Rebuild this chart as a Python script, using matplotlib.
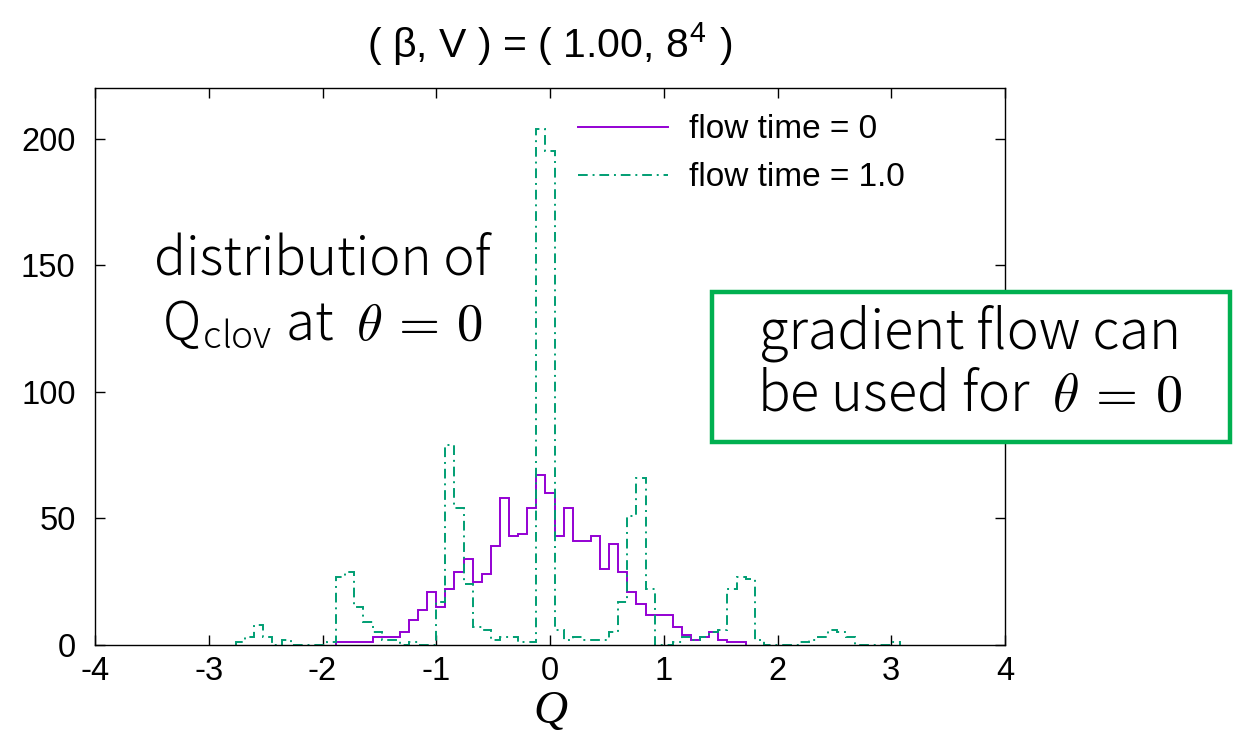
import matplotlib
matplotlib.use("Agg")
import matplotlib.pyplot as plt
from matplotlib.patches import Rectangle
import numpy as np

plt.rcParams['mathtext.fontset'] = 'cm'
plt.rcParams['axes.unicode_minus'] = False
plt.rcParams['font.family'] = ['Liberation Sans', 'DejaVu Sans']

# histogram of Q, bin width 0.08
bin_width = 0.08
q_flow0 = [-1.84, -1.76, -1.68, -1.60, -1.52, -1.44, -1.36, -1.28, -1.20, -1.12,
           -1.04, -0.96, -0.88, -0.80, -0.72, -0.64, -0.56, -0.48, -0.40, -0.32,
           -0.24, -0.16, -0.08, 0.00, 0.08, 0.16, 0.24, 0.32, 0.40, 0.48,
           0.56, 0.64, 0.72, 0.80, 0.88, 0.96, 1.04, 1.12, 1.20, 1.28,
           1.36, 1.44, 1.52, 1.60, 1.68]
n_flow0 = [1, 1, 1, 1, 3, 3, 3, 5, 10, 14,
           21, 15, 22, 29, 34, 25, 28, 39, 58, 43,
           44, 54, 67, 60, 43, 54, 41, 41, 43, 30,
           40, 29, 21, 16, 12, 12, 12, 7, 4, 2,
           3, 5, 2, 1, 1]

q_flow1 = [-2.72, -2.64, -2.56, -2.48, -2.40, -2.32, -2.24, -2.16, -2.08, -2.00,
           -1.92, -1.84, -1.76, -1.68, -1.60, -1.52, -1.44, -1.36, -1.28, -1.20,
           -1.12, -1.04, -0.96, -0.88, -0.80, -0.72, -0.64, -0.56, -0.48, -0.40,
           -0.32, -0.24, -0.16, -0.08, 0.00, 0.08, 0.16, 0.24, 0.32, 0.40,
           0.48, 0.56, 0.64, 0.72, 0.80, 0.88, 0.96, 1.04, 1.12, 1.20,
           1.28, 1.36, 1.44, 1.52, 1.60, 1.68, 1.76, 1.84, 1.92, 2.00,
           2.08, 2.16, 2.24, 2.32, 2.40, 2.48, 2.56, 2.64, 2.72, 2.80,
           2.88, 2.96, 3.04]
n_flow1 = [1, 3, 8, 3, 0, 2, 0, 0, 0, 0,
           1, 27, 29, 15, 9, 5, 2, 2, 0, 1,
           0, 0, 17, 79, 54, 24, 7, 6, 2, 3,
           3, 1, 1, 204, 195, 6, 2, 3, 2, 2,
           2, 5, 17, 51, 66, 22, 0, 0, 1, 3,
           2, 3, 5, 6, 22, 27, 26, 2, 0, 0,
           0, 0, 1, 2, 3, 6, 5, 3, 0, 0,
           0, 0, 1]

x_ticks = [-4, -3, -2, -1, 0, 1, 2, 3, 4]
y_ticks = [0, 50, 100, 150, 200]


def edges_of(centers):
    c = np.asarray(centers)
    return np.append(c - bin_width / 2, c[-1] + bin_width / 2)


W, H = 1243, 746
fig = plt.figure(figsize=(W / 100, H / 100), dpi=100)
ax = fig.add_axes([95 / W, 1 - 645 / H, 910 / W, 557 / H])

ax.stairs(n_flow0, edges_of(q_flow0), color='#9400d3', lw=1.4,
          label='flow time = 0', zorder=2)
ax.stairs(n_flow1, edges_of(q_flow1), color='#009e73', lw=1.4,
          linestyle=(0, (5, 2.5, 1, 2.5)), label='flow time = 1.0', zorder=2)

ax.set_xlim(-4, 4)
ax.set_ylim(0, 220)
ax.set_xticks(x_ticks)
ax.set_yticks(y_ticks)
ax.tick_params(direction='in', length=7, width=1, top=True, right=True,
               labelsize=23.5)
ax.tick_params(axis='y', pad=14)
ax.tick_params(axis='x', pad=8)
for s in ax.spines.values():
    s.set_linewidth(1.0)
    s.set_zorder(3)

ax.legend(loc='upper left', bbox_to_anchor=(0.531, 0.953), frameon=False,
          fontsize=24, handlelength=2.7, handletextpad=0.62, labelspacing=0.51,
          borderpad=0, borderaxespad=0)

fig.text(550 / W, 1 - 45 / H, r'( β, V ) = ( 1.00, 8$^{\mathregular{4}}$ )',
         ha='center', va='center', fontsize=29.5)
fig.text(550 / W, 1 - 712 / H, 'Q', ha='center', va='center', fontsize=34,
         family='Liberation Serif', style='italic')

jp = ['Noto Sans CJK JP', 'DejaVu Sans']
fig.text(322 / W, 1 - 260 / H, 'distribution of', ha='center', va='center',
         fontsize=38, family=jp, weight='light')
fig.text(322 / W, 1 - 325 / H, r'Q$_{\mathregular{clov}}$ at  $\theta\,=\,0$',
         ha='center', va='center', fontsize=38, family=jp, weight='light')

fig.patches.append(Rectangle((712 / W, 1 - 442 / H), 518 / W, 150 / H,
                             transform=fig.transFigure, facecolor='white',
                             edgecolor='#00b050', lw=3.2, zorder=5))
fig.text(970 / W, 1 - 333 / H, 'gradient flow can', ha='center', va='center',
         fontsize=39, family=jp, weight='light', zorder=6)
fig.text(970 / W, 1 - 395 / H, r'be used for  $\theta\,=\,0$', ha='center',
         va='center', fontsize=39, family=jp, weight='light', zorder=6)

plt.savefig('out.png', dpi=100)
